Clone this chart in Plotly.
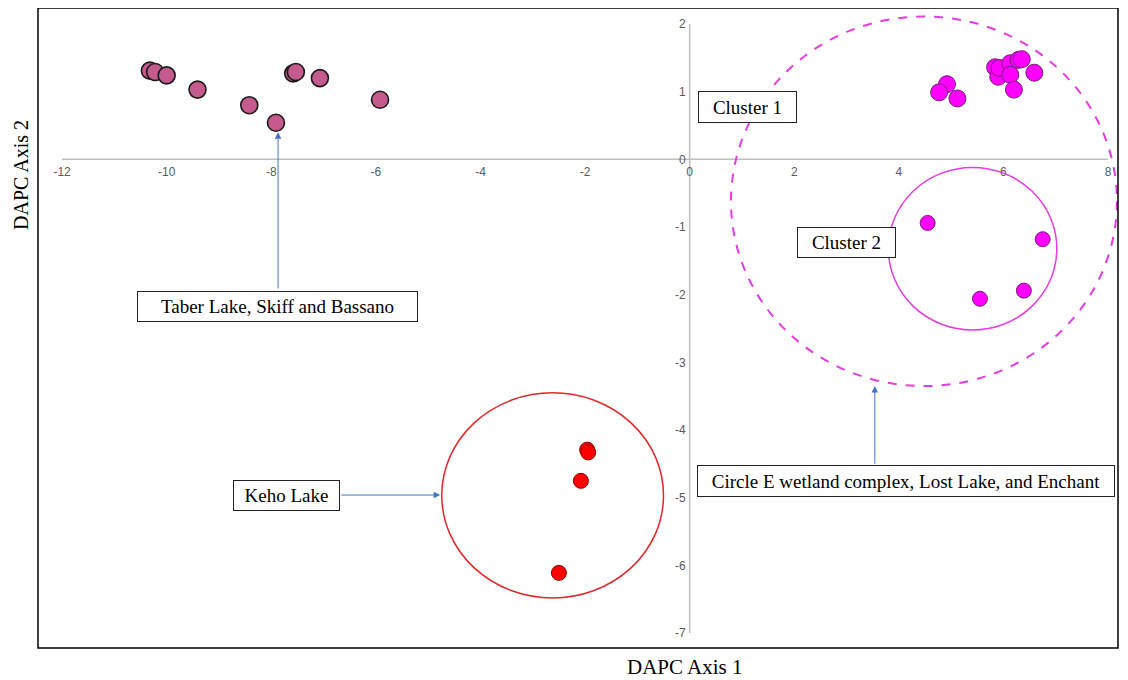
import plotly.graph_objects as go

# ---- data ----
taber_x = [-10.32, -10.22, -10.0, -9.41, -8.42, -7.91, -7.58, -7.53, -7.07, -5.92]
taber_y = [1.31, 1.29, 1.24, 1.03, 0.80, 0.54, 1.27, 1.29, 1.20, 0.88]

c1_x = [4.92, 4.77, 5.12, 5.84, 5.90, 5.92, 6.13, 6.13, 6.29, 6.35, 6.59, 6.20]
c1_y = [1.11, 0.99, 0.90, 1.36, 1.22, 1.35, 1.42, 1.25, 1.47, 1.48, 1.28, 1.03]

c2_x = [4.55, 6.75, 6.39, 5.55]
c2_y = [-0.94, -1.18, -1.94, -2.06]

keho_x = [-1.96, -1.94, -2.08, -2.50]
keho_y = [-4.29, -4.33, -4.75, -6.11]

x_ticks = [-12, -10, -8, -6, -4, -2, 0, 2, 4, 6, 8]
y_ticks = [-7, -6, -5, -4, -3, -2, -1, 0, 1, 2]

X_RANGE = [-12.46, 8.19]
Y_RANGE = [-7.22, 2.236]

# ellipses (data units)
red_circle = dict(x0=-4.74, x1=-0.50, y0=-6.48, y1=-3.45)
c2_circle = dict(x0=3.80, x1=7.02, y0=-2.52, y1=-0.12)
c1_circle = dict(x0=0.79, x1=8.17, y0=-3.35, y1=2.11)

SERIF = "Liberation Serif, Times New Roman, serif"
BLUE = "#4472C4"

fig = go.Figure()

fig.add_trace(go.Scatter(x=taber_x, y=taber_y, mode="markers",
                         marker=dict(size=17, color="#C55A8C",
                                     line=dict(color="#1a1a1a", width=1.6)),
                         showlegend=False, cliponaxis=False))
fig.add_trace(go.Scatter(x=c1_x, y=c1_y, mode="markers",
                         marker=dict(size=17, color="#FF00FF",
                                     line=dict(color="#7A1A7A", width=1)),
                         showlegend=False, cliponaxis=False))
fig.add_trace(go.Scatter(x=c2_x, y=c2_y, mode="markers",
                         marker=dict(size=15, color="#FF00FF",
                                     line=dict(color="#7A1A7A", width=1)),
                         showlegend=False, cliponaxis=False))
fig.add_trace(go.Scatter(x=keho_x, y=keho_y, mode="markers",
                         marker=dict(size=15, color="#FF0000",
                                     line=dict(color="#8B0000", width=1)),
                         showlegend=False, cliponaxis=False))

shapes = []
# axis cross lines spanning tick range
shapes.append(dict(type="line", xref="x", yref="y", x0=x_ticks[0], x1=x_ticks[-1], y0=0, y1=0,
                   line=dict(color="#BFBFBF", width=1.5), layer="below"))
shapes.append(dict(type="line", xref="x", yref="y", x0=0, x1=0, y0=y_ticks[0], y1=y_ticks[-1],
                   line=dict(color="#BFBFBF", width=1.5), layer="below"))
shapes.append(dict(type="circle", xref="x", yref="y", **red_circle,
                   line=dict(color="#E3262A", width=1.5)))
shapes.append(dict(type="circle", xref="x", yref="y", **c2_circle,
                   line=dict(color="#E63BE0", width=1.5)))
shapes.append(dict(type="circle", xref="x", yref="y", **c1_circle,
                   line=dict(color="#E63BE0", width=2, dash="dash")))
# outer frame
shapes.append(dict(type="rect", xref="paper", yref="paper", x0=0, x1=1, y0=0, y1=1,
                   line=dict(color="black", width=1.5)))

annotations = []

def box(text, x, y, w, h):
    annotations.append(dict(text=text, x=x, y=y, xref="x", yref="y", showarrow=False,
                            font=dict(family=SERIF, size=19, color="black"),
                            bgcolor="white", bordercolor="#222", borderwidth=1,
                            borderpad=0, width=w, height=h, align="center",
                            xanchor="center", yanchor="middle"))

def arrow(xh, yh, xt, yt):
    annotations.append(dict(text="", x=xh, y=yh, ax=xt, ay=yt, xref="x", yref="y",
                            axref="x", ayref="y", showarrow=True, arrowhead=2,
                            arrowsize=1.3, arrowwidth=1, arrowcolor=BLUE, standoff=0))

arrow(-7.87, 0.40, -7.87, -1.93)
arrow(-4.77, -4.96, -6.69, -4.96)
arrow(3.54, -3.35, 3.54, -4.52)

box("Cluster 1", 1.11, 0.77, 97, 30)
box("Cluster 2", 3.0, -1.23, 97, 29)
box("Taber Lake, Skiff and Bassano", -7.88, -2.17, 279, 29)
box("Keho Lake", -7.70, -4.97, 105, 29)
box("Circle E wetland complex, Lost Lake, and Enchant", 4.14, -4.75, 416, 30)

# plot area in page pixels: x 38..1118, y 8..648 (page has an 8px body margin)
annotations.append(dict(text="DAPC Axis 1", xref="paper", yref="paper",
                        x=(685 - 38) / 1080, y=-(667 - 648) / 640, showarrow=False,
                        font=dict(family=SERIF, size=21, color="black"),
                        xanchor="center", yanchor="middle"))
annotations.append(dict(text="DAPC Axis 2", xref="paper", yref="paper",
                        x=-(38 - 21) / 1080, y=1 - (175 - 8) / 640, showarrow=False,
                        textangle=-90,
                        font=dict(family=SERIF, size=20, color="black"),
                        xanchor="center", yanchor="middle"))

x_pos = (0 - Y_RANGE[0]) / (Y_RANGE[1] - Y_RANGE[0])
y_pos = (0 - X_RANGE[0]) / (X_RANGE[1] - X_RANGE[0])

fig.update_layout(
    width=1128, height=680,
    margin=dict(l=30, r=18, t=0, b=40),
    paper_bgcolor="white", plot_bgcolor="white",
    shapes=shapes, annotations=annotations,
    xaxis=dict(range=X_RANGE, tickvals=x_ticks, ticktext=[str(v) for v in x_ticks],
               showgrid=False, zeroline=False, showline=False, ticks="",
               anchor="free", position=x_pos, ticklabelstandoff=4,
               tickfont=dict(family="Liberation Sans, Arial, sans-serif", size=12, color="#595959")),
    yaxis=dict(range=Y_RANGE, tickvals=y_ticks, ticktext=[str(v) for v in y_ticks],
               showgrid=False, zeroline=False, showline=False, ticks="",
               anchor="free", position=y_pos, ticklabelstandoff=4,
               tickfont=dict(family="Liberation Sans, Arial, sans-serif", size=12, color="#595959")),
)

fig.write_html("out.html")
